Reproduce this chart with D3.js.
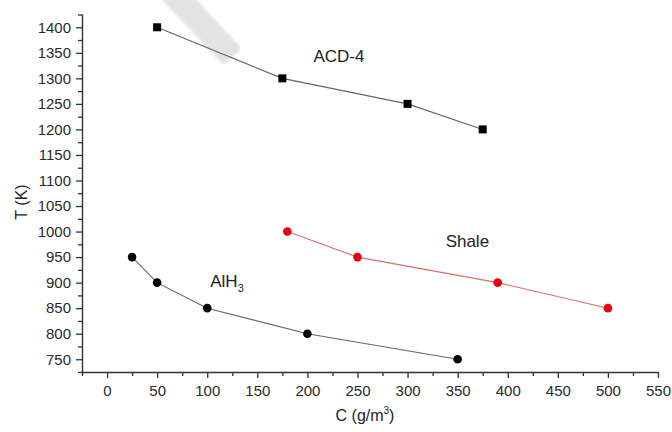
<!DOCTYPE html>
<html>
<head>
<meta charset="utf-8">
<script src="https://cdn.jsdelivr.net/npm/d3@7"></script>
<style>
  html, body { margin: 0; padding: 0; background: #fff; }
  svg { display: block; font-family: Arial, "Liberation Sans", sans-serif; }
</style>
</head>
<body>
<svg id="chart" width="672" height="432"></svg>
<script>
// data
const acdC = [50, 175, 300, 375];
const acdT = [1400, 1300, 1250, 1200];
const shaleC = [180, 250, 390, 500];
const shaleT = [1000, 950, 900, 850];
const alhC = [25, 50, 100, 200, 350];
const alhT = [950, 900, 850, 800, 750];

const xTicks = [0, 50, 100, 150, 200, 250, 300, 350, 400, 450, 500, 550];
const yTicks = [750, 800, 850, 900, 950, 1000, 1050, 1100, 1150, 1200, 1250, 1300, 1350, 1400];

const margin = {top: 14, right: 14, bottom: 60, left: 82},
  width = 672 - margin.left - margin.right,
  height = 432 - margin.top - margin.bottom;

const x = d3.scaleLinear().domain([-25, 550]).range([0, width]);
const y = d3.scaleLinear().domain([725, 1426]).range([height, 0]);

const svg = d3.select('#chart');

// faint grey watermark stroke in the top left of the original
svg.append('defs').append('filter').attr('id', 'soft')
  .append('feGaussianBlur').attr('stdDeviation', 1.8);
svg.append('line')
  .attr('x1', 170).attr('y1', -10).attr('x2', 233).attr('y2', 57)
  .attr('stroke', '#e3e3e3').attr('stroke-width', 25)
  .attr('filter', 'url(#soft)');

const chart = svg.append('g')
  .attr('transform', 'translate(' + margin.left + ',' + margin.top + ')');

// minor ticks (every 25)
const xMinor = d3.range(-25, 550, 50);
const yMinor = d3.range(725, 1426, 50);

chart.append('g')
  .attr('transform', 'translate(0,' + height + ')')
  .call(d3.axisBottom(x).tickValues(xMinor).tickSize(4).tickFormat(''))
  .call(g => g.select('.domain').remove());

chart.append('g')
  .call(d3.axisLeft(y).tickValues(yMinor).tickSize(4).tickFormat(''))
  .call(g => g.select('.domain').remove());

// major axes
chart.append('g')
  .attr('transform', 'translate(0,' + height + ')')
  .call(d3.axisBottom(x).tickValues(xTicks).tickSize(6).tickSizeOuter(0)
    .tickPadding(7).tickFormat(d3.format('d')));

chart.append('g')
  .call(d3.axisLeft(y).tickValues(yTicks).tickSize(6).tickSizeOuter(0)
    .tickPadding(5).tickFormat(d3.format('d')));

chart.selectAll('.tick line').attr('stroke', '#333').attr('stroke-width', 1.3);
chart.selectAll('.domain').attr('stroke', '#333').attr('stroke-width', 1.4);
chart.selectAll('.tick text')
  .attr('font-size', 15).attr('fill', '#2a2a2a')
  .attr('font-family', 'Arial, "Liberation Sans", sans-serif');

// axis titles
svg.append('text')
  .attr('transform', 'translate(27,' + 202 + ') rotate(-90)')
  .attr('text-anchor', 'middle')
  .attr('font-size', 16).attr('fill', '#222')
  .text('T (K)');

const xt = svg.append('text')
  .attr('x', 365).attr('y', 421)
  .attr('text-anchor', 'middle')
  .attr('font-size', 16).attr('fill', '#222');
xt.append('tspan').text('C (g/m');
xt.append('tspan').attr('font-size', 10).attr('dy', -7).text('3');
xt.append('tspan').attr('dy', 7).text(')');

// series
const line = d3.line().x(d => x(d[0])).y(d => y(d[1]));
const acd = d3.zip(acdC, acdT);
const shale = d3.zip(shaleC, shaleT);
const alh = d3.zip(alhC, alhT);

chart.append('path').datum(acd)
  .attr('d', line).attr('fill', 'none')
  .attr('stroke', '#666').attr('stroke-width', 1.1);
chart.selectAll('.sq').data(acd).enter().append('rect')
  .attr('x', d => x(d[0]) - 4).attr('y', d => y(d[1]) - 4)
  .attr('width', 8).attr('height', 8).attr('fill', '#000');

chart.append('path').datum(shale)
  .attr('d', line).attr('fill', 'none')
  .attr('stroke', '#e06a6a').attr('stroke-width', 1.1);
chart.selectAll('.rd').data(shale).enter().append('circle')
  .attr('cx', d => x(d[0])).attr('cy', d => y(d[1]))
  .attr('r', 4.3).attr('fill', '#e8000c');

chart.append('path').datum(alh)
  .attr('d', line).attr('fill', 'none')
  .attr('stroke', '#666').attr('stroke-width', 1.1);
chart.selectAll('.bk').data(alh).enter().append('circle')
  .attr('cx', d => x(d[0])).attr('cy', d => y(d[1]))
  .attr('r', 4.3).attr('fill', '#000');

// series labels (placed in data units)
chart.append('text')
  .attr('x', x(206)).attr('y', y(1332))
  .attr('font-size', 17).attr('fill', '#222')
  .text('ACD-4');

chart.append('text')
  .attr('x', x(338)).attr('y', y(970))
  .attr('font-size', 17).attr('fill', '#222')
  .text('Shale');

const al = chart.append('text')
  .attr('x', x(103)).attr('y', y(891))
  .attr('font-size', 17).attr('fill', '#222');
al.append('tspan').text('AlH');
al.append('tspan').attr('font-size', 11).attr('dy', 5).text('3');
</script>
</body>
</html>
